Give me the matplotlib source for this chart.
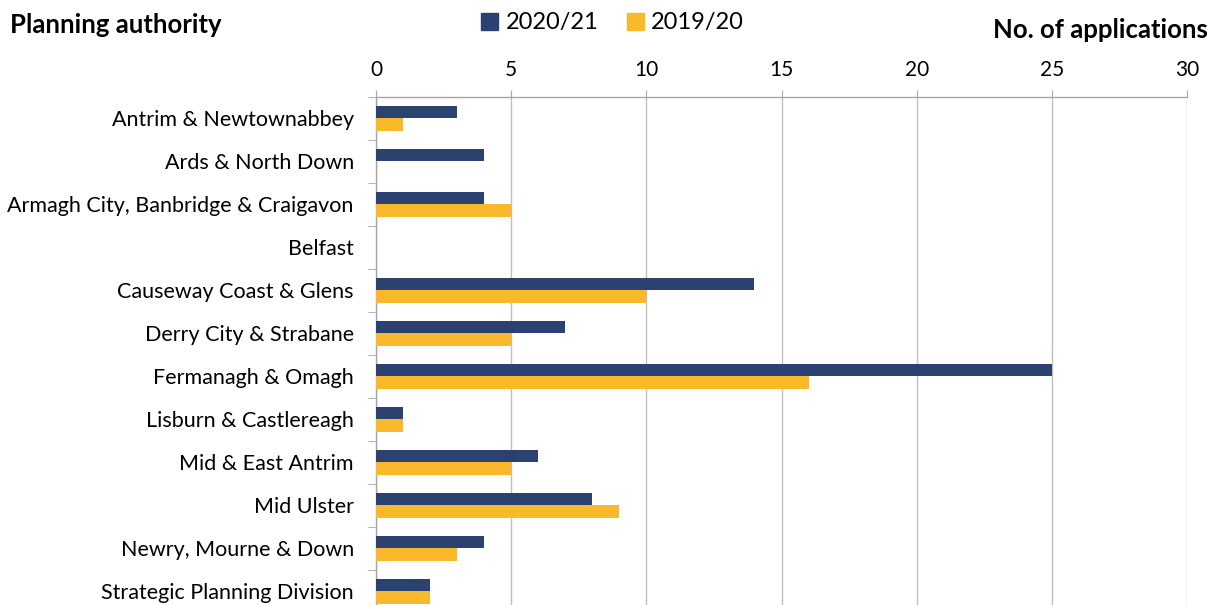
import numpy as np
import matplotlib.pyplot as plt
from matplotlib.patches import Patch

plt.rcParams['font.family'] = ['Lato', 'DejaVu Sans']

authorities = ['Antrim & Newtownabbey', 'Ards & North Down', 'Armagh City, Banbridge & Craigavon',
               'Belfast', 'Causeway Coast & Glens', 'Derry City & Strabane', 'Fermanagh & Omagh',
               'Lisburn & Castlereagh', 'Mid & East Antrim', 'Mid Ulster', 'Newry, Mourne & Down',
               'Strategic Planning Division']
apps_2021 = [3, 4, 4, 0, 14, 7, 25, 1, 6, 8, 4, 2]
apps_1920 = [1, 0, 5, 0, 10, 5, 16, 1, 5, 9, 3, 2]

navy = '#2B4170'
amber = '#F9B92A'
grey = '#A6A6A6'

fig = plt.figure(figsize=(12.2, 6.05), dpi=100)
ax = fig.add_axes([0.3082, -0.0132, 0.6648, 0.8529])

y = np.arange(len(authorities))
h = 0.28
ax.barh(y - h / 2, apps_2021, height=h, color=navy, linewidth=0, zorder=3)
ax.barh(y + h / 2, apps_1920, height=h, color=amber, linewidth=0, zorder=3)

ax.set_xlim(0, 30)
ax.set_ylim(len(authorities) - 0.5, -0.5)
ax.xaxis.tick_top()
ax.set_xticks(range(0, 31, 5))
ax.tick_params(axis='x', length=5, color=grey, labelsize=15, pad=7)
ax.grid(axis='x', color='#BFBFBF', linewidth=1, zorder=0)

ax.set_yticks(y)
ax.set_yticklabels(authorities, fontsize=15.5)
ax.tick_params(axis='y', length=0, pad=16)
ax.set_yticks(np.arange(-0.5, len(authorities), 1), minor=True)
ax.tick_params(axis='y', which='minor', length=6, color=grey)

for s in ['right', 'bottom']:
    ax.spines[s].set_visible(False)
for s in ['top', 'left']:
    ax.spines[s].set_color(grey)
    ax.spines[s].set_linewidth(1)

fig.text(0.008, 0.958, 'Planning authority', fontsize=18.5, fontweight='bold', va='center', ha='left')
fig.text(0.99, 0.95, 'No. of applications', fontsize=18.5, fontweight='bold', va='center', ha='right')

handles = [Patch(color=navy), Patch(color=amber)]
fig.legend(handles, ['2020/21', '2019/20'], loc='center', bbox_to_anchor=(0.502, 0.962), ncol=2,
           frameon=False, fontsize=17, handlelength=0.75, handleheight=0.75, handletextpad=0.3,
           columnspacing=1.2)

fig.savefig('out.png', dpi=100)
